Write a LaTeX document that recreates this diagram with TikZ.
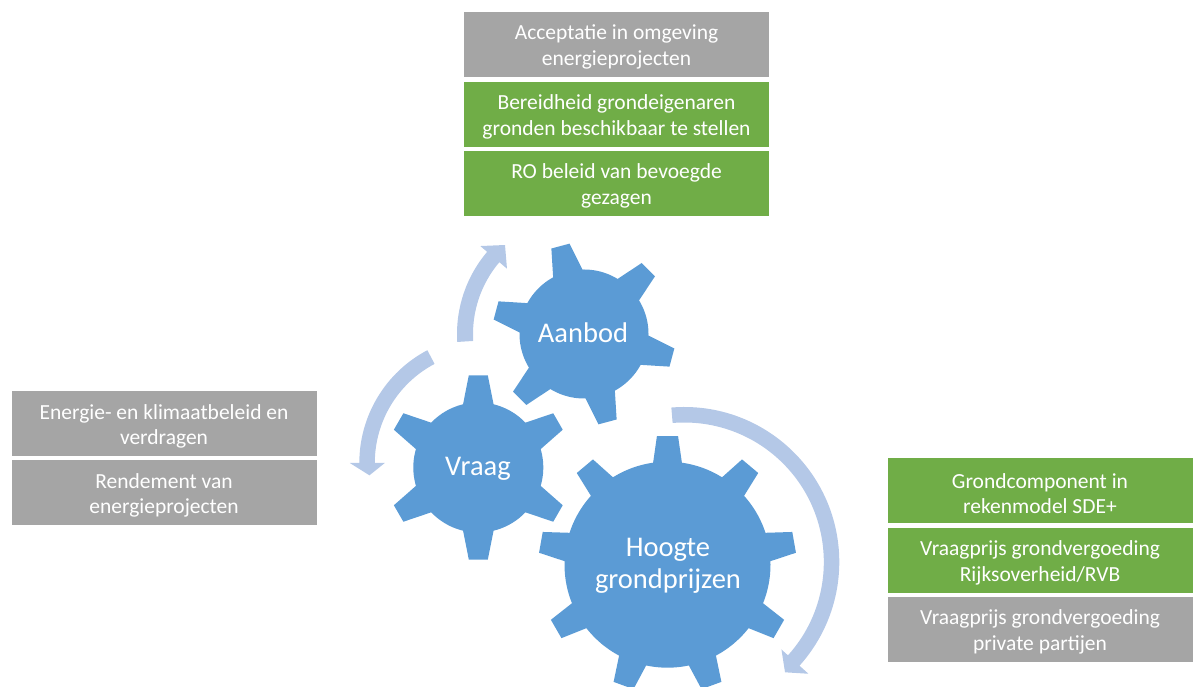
\documentclass[tikz,border=0pt]{standalone}
\usepackage{fontspec}
\setmainfont{Carlito}
\definecolor{gearblue}{HTML}{5B9BD5}
\definecolor{arrowblue}{HTML}{B4C8E7}
\definecolor{boxgray}{HTML}{A5A5A5}
\definecolor{boxgreen}{HTML}{70AD47}
\tikzset{
  factor/.style={text=white,font=\fontsize{21.5}{25.5}\selectfont,align=center,
    inner sep=0pt,minimum width=305pt,minimum height=65pt},
  graybox/.style={factor,fill=boxgray},
  greenbox/.style={factor,fill=boxgreen},
  gearlabel/.style={text=white,font=\fontsize{28.5}{32}\selectfont,align=center,inner sep=0pt}
}
\newcommand\twolines[2]{\rule{0pt}{20pt}#1\\#2}
% centre, teeth, first tooth, body radius, tip radius, half angle at body, half angle at tip
\newcommand\gearwheel[7]{
\begin{scope}[shift={(#1)}]
\fill [gearblue] (0,0) circle (#4);
\foreach \k in {1,...,#2} {
  \pgfmathsetmacro\a{#3+360*\k/#2}
  \fill [gearblue] (\a-#6:#4-1) -- (\a-#7:#5) -- (\a+#7:#5) -- (\a+#6:#4-1) -- cycle;
}
\end{scope}
}
% centre, start, end, inner radius, outer radius, barb radii, tip angle, tip radius
\newcommand\roundarrow[9]{
\begin{scope}[shift={(#1)}]
\fill [arrowblue] (#2:#5) arc [start angle=#2,end angle=#3,radius=#5]
  -- (#3:#7) -- (#8:#9) -- (#3:#6) -- (#3:#4)
  arc [start angle=#3,end angle=#2,radius=#4] -- cycle;
\end{scope}
}

\begin{document}
\begin{tikzpicture} [x=1pt,y=1pt]
\clip (0,0) rectangle (1197,687);

% the gears
\gearwheel{584,353}{6}{45}{64.5}{91.5}{14}{5.9}
\gearwheel{478.3,219.5}{6}{30}{65}{92.5}{14}{5.9}
\gearwheel{667.5,122.3}{9}{90}{103}{129}{8.2}{4.7}

\node [gearlabel] (aanbod) at (583,354) {Aanbod};
\node [gearlabel] (vraag) at (478,218) {Vraag};
\node [gearlabel] (hoogte) at (668,121.5) {Hoogte\\grondprijzen};

% the arrows
\roundarrow{584,353}{183.6}{139.7}{111}{127}{101}{136}{131.6}{119}
\roundarrow{486.8,224}{117.8}{180}{112}{127.5}{102}{137}{186}{118}
\roundarrow{684.3,125}{94.8}{-42}{139.5}{155}{130.7}{167}{-47.6}{149.4}

% the top boxes
\node [graybox] (accept) at (616.5,642.5) {\twolines{Acceptatie in omgeving}{energieprojecten}};
\node [greenbox] (bereid) at (616.5,572.5) {\twolines{Bereidheid grondeigenaren}{gronden beschikbaar te stellen}};
\node [greenbox] (robeleid) at (616.5,503.5) {\twolines{RO beleid van bevoegde}{gezagen}};

% the left boxes
\node [graybox] (klimaat) at (164,263) {\twolines{Energie- en klimaatbeleid en}{verdragen}};
\node [graybox] (rendement) at (164,194) {\twolines{Rendement van}{energieprojecten}};

% the right boxes
\node [greenbox] (sde) at (1040,196) {\twolines{Grondcomponent in}{rekenmodel SDE+}};
\node [greenbox] (rijk) at (1040,126.5) {\twolines{Vraagprijs grondvergoeding}{Rijksoverheid/RVB}};
\node [graybox] (prive) at (1040,57.5) {\twolines{Vraagprijs grondvergoeding}{private partijen}};

\end{tikzpicture}
\end{document}
